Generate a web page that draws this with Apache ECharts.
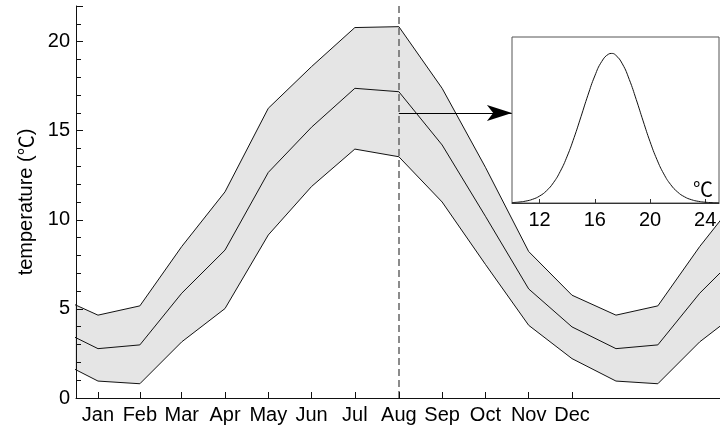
<!DOCTYPE html>
<html>
<head>
<meta charset="utf-8">
<script src="https://cdn.jsdelivr.net/npm/echarts@6/dist/echarts.min.js"></script>
<style>
  html, body { margin: 0; padding: 0; background: #fff; }
  #chart { width: 720px; height: 430px; }
</style>
</head>
<body>
<div id="chart"></div>
<script>
// Monthly temperature climatology: mean with lower / upper bounds (°C)
const months = ['Jan', 'Feb', 'Mar', 'Apr', 'May', 'Jun', 'Jul', 'Aug', 'Sep', 'Oct', 'Nov', 'Dec'];
// day of year at the middle of each month
const monthDays = [15.5, 45, 74.5, 105, 135.5, 166, 196.5, 227.5, 258, 288.5, 319, 349.5];
const upperTemp = [4.65, 5.17, 8.5, 11.57, 16.26, 18.6, 20.79, 20.84, 17.38, 12.95, 8.22, 5.77];
const meanTemp  = [2.77, 2.98, 5.88, 8.30, 12.66, 15.2, 17.38, 17.19, 14.2, 10.2, 6.12, 3.99];
const lowerTemp = [0.95, 0.80, 3.15, 5.02, 9.15, 11.87, 13.97, 13.54, 11.0, 7.5, 4.08, 2.21];

// distribution of August temperature (relative density)
const densityTemp = [10, 10.5, 11, 11.5, 12, 12.5, 13, 13.5, 14, 14.5, 15, 15.5, 16, 16.5, 17, 17.2,
  17.5, 18, 18.5, 19, 19.5, 20, 20.5, 21, 21.5, 22, 22.5, 23, 23.5, 24, 24.5, 25];
const densityValue = [0.0028, 0.0062, 0.0128, 0.0251, 0.0466, 0.0817, 0.1353, 0.2118, 0.3132,
  0.4375, 0.5775, 0.7205, 0.8496, 0.9459, 0.9955, 1.0, 0.9898, 0.930, 0.8256, 0.6926, 0.549, 0.411,
  0.291, 0.1945, 0.1228, 0.0734, 0.0414, 0.0221, 0.0111, 0.0053, 0.0024, 0.0010];
const densityTicks = [12, 16, 20, 24];

const augustDay = monthDays[7];
const arrowTemp = 16;
const yearLength = 365;

// the seasonal cycle repeats, so lay the months out over consecutive years
function cyclic(values) {
  const pts = [];
  [-yearLength, 0, yearLength].forEach(function (off) {
    values.forEach(function (v, i) { pts.push([monthDays[i] + off, v]); });
  });
  return pts;
}

const font = "'Liberation Sans', Arial, sans-serif";
const cjkFont = "'Noto Sans CJK SC', 'Noto Sans CJK JP', sans-serif";
const ink = '#111';

const chart = echarts.init(document.getElementById('chart'), null, { renderer: 'canvas' });

const plainLine = function (name, values, extra) {
  return Object.assign({
    name: name, type: 'line', xAxisIndex: 0, yAxisIndex: 0,
    data: cyclic(values), symbol: 'none', z: 4,
    lineStyle: { color: ink, width: 1 }, silent: true, animation: false
  }, extra || {});
};

const degreeRich = {
  t: { fontFamily: font, fontSize: 20, color: '#000' },
  c: { fontFamily: cjkFont, fontSize: 20, color: '#000' }
};

chart.setOption({
  animation: false,
  backgroundColor: '#fff',
  textStyle: { fontFamily: font },
  grid: [
    { left: 76, top: 6, right: 0, bottom: 32 },
    { left: 512, top: 37, right: 1, height: 166, show: true, borderColor: '#555', borderWidth: 1,
      backgroundColor: '#fff', z: 10 }
  ],
  xAxis: [
    {
      type: 'value', gridIndex: 0, min: 0, max: 453.8, z: 6,
      splitLine: { show: false },
      axisLine: { lineStyle: { color: ink, width: 1 } },
      axisTick: { inside: true, length: 6, lineStyle: { color: ink }, customValues: monthDays },
      axisLabel: {
        customValues: monthDays, margin: 7, color: '#000', fontSize: 20, fontFamily: font,
        formatter: function (v) { return months[monthDays.indexOf(v)] || ''; }
      }
    },
    {
      type: 'value', gridIndex: 1, min: 10, max: 25, z: 11,
      splitLine: { show: false },
      axisLine: { lineStyle: { color: '#333', width: 1 } },
      axisTick: { inside: true, length: 4, lineStyle: { color: '#333' }, customValues: densityTicks },
      axisLabel: { customValues: densityTicks, margin: 7, color: '#000', fontSize: 20, fontFamily: font },
      name: '{c|℃}', nameLocation: 'end', nameGap: -6,
      nameTextStyle: { color: '#000', fontSize: 20, fontFamily: cjkFont, align: 'right',
        verticalAlign: 'bottom', padding: [0, 0, 4, 0], rich: degreeRich }
    }
  ],
  yAxis: [
    {
      type: 'value', gridIndex: 0, min: 0, max: 22, interval: 5, z: 6,
      splitLine: { show: false },
      axisLine: { show: true, lineStyle: { color: ink, width: 1 } },
      axisTick: { inside: true, length: 7, lineStyle: { color: ink } },
      minorTick: { show: true, splitNumber: 5, length: 5, lineStyle: { color: ink } },
      axisLabel: { margin: 6, color: '#000', fontSize: 20, fontFamily: font, showMaxLabel: false },
      name: '{t|temperature (}{c|℃}{t|)}', nameLocation: 'middle', nameGap: 40,
      nameTextStyle: { color: '#000', fontSize: 20, fontFamily: font, rich: degreeRich }
    },
    {
      type: 'value', gridIndex: 1, min: 0, max: 1.11, z: 11,
      splitLine: { show: false }, axisLine: { show: false },
      axisTick: { show: false }, axisLabel: { show: false }
    }
  ],
  series: [
    // grey band: fill under the upper bound, then blank out everything under the lower bound
    plainLine('upper fill', upperTemp, { z: 1, lineStyle: { opacity: 0 },
      areaStyle: { color: '#e5e5e5', opacity: 1, origin: 'start' } }),
    plainLine('lower fill', lowerTemp, { z: 2, lineStyle: { opacity: 0 },
      areaStyle: { color: '#fff', opacity: 1, origin: 'start' } }),
    plainLine('upper', upperTemp),
    plainLine('lower', lowerTemp),
    plainLine('mean', meanTemp, {
      markLine: {
        silent: true, animation: false, symbol: 'none', label: { show: false },
        data: [
          { xAxis: augustDay, lineStyle: { color: '#666', width: 1.5, type: [7, 4] } },
          [
            { coord: [augustDay, arrowTemp], symbol: 'none', lineStyle: { color: '#000', width: 1, type: 'solid' } },
            { coord: [307.2, arrowTemp], symbol: 'arrow', symbolSize: [12, 25] }
          ]
        ]
      }
    }),
    {
      name: 'density', type: 'line', xAxisIndex: 1, yAxisIndex: 1, z: 12,
      data: densityTemp.map(function (t, i) { return [t, densityValue[i]]; }),
      smooth: true, symbol: 'none', lineStyle: { color: ink, width: 1 }, silent: true
    }
  ]
});
</script>
</body>
</html>
